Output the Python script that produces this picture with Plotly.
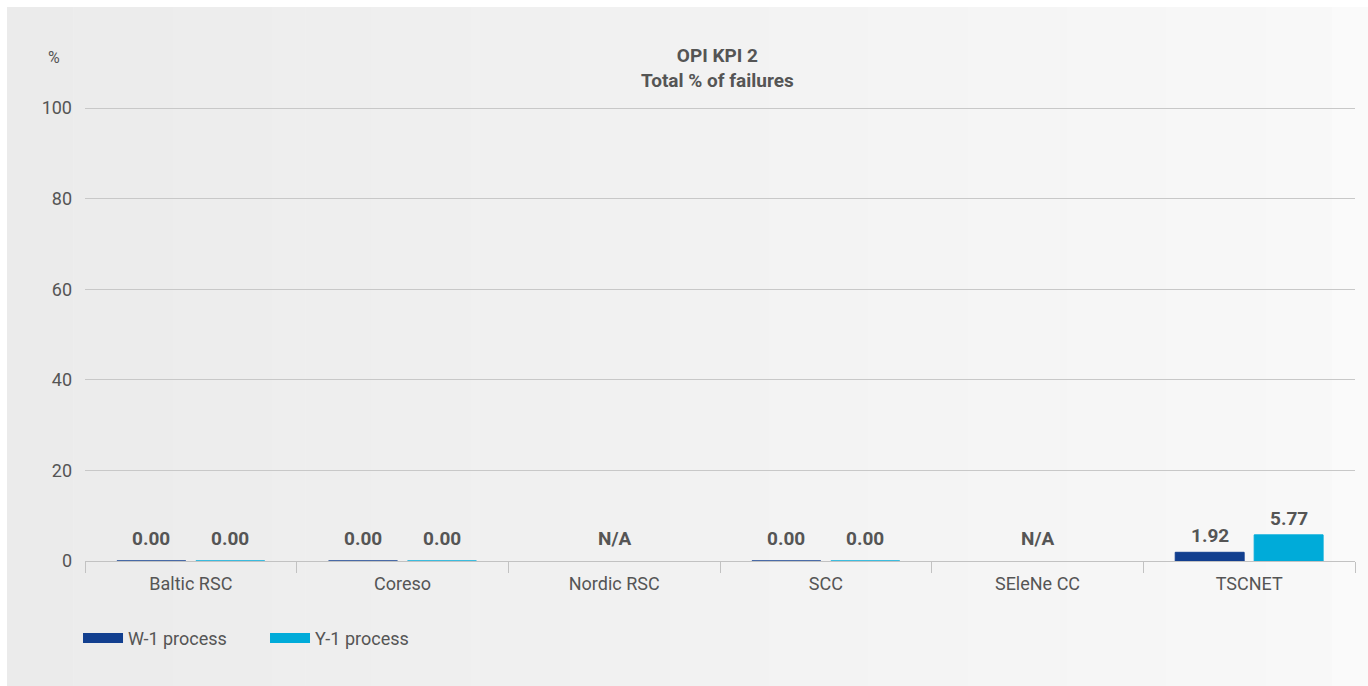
import plotly.graph_objects as go

categories = ["Baltic RSC", "Coreso", "Nordic RSC", "SCC", "SEleNe CC", "TSCNET"]
w1_values = [0.0, 0.0, None, 0.0, None, 1.92]
y1_values = [0.0, 0.0, None, 0.0, None, 5.77]
series_names = ["W-1 process", "Y-1 process"]
series_colors = ["#123f8f", "#00abd9"]
y_ticks = [0, 20, 40, 60, 80, 100]
na_label = "N/A"
title_lines = ["OPI KPI 2", "Total % of failures"]
y_unit = "%"

FONT = "Roboto"
GREY_TEXT = "#555555"

fig = go.Figure()
series = [w1_values, y1_values]
for name, vals, col in zip(series_names, series, series_colors):
    fig.add_trace(go.Bar(
        x=categories, y=vals, name=name, showlegend=False,
        marker=dict(color=col, line=dict(color=col, width=1)),
        hoverinfo="x+y",
    ))
# legend swatches (wide rectangles like the original)
for name, col in zip(series_names, series_colors):
    fig.add_trace(go.Scatter(
        x=[None], y=[None], mode="lines", name=name,
        line=dict(color=col, width=12), showlegend=True,
    ))

annotations = []
offsets = [-0.187, 0.187]
for i, cat in enumerate(categories):
    vals = [s[i] for s in series]
    if all(v is None for v in vals):
        annotations.append(dict(
            x=i, y=0, xref="x", yref="y", text="<b>%s</b>" % na_label,
            showarrow=False, yanchor="bottom", yshift=9,
            font=dict(family=FONT, size=19, color=GREY_TEXT)))
        continue
    for off, v in zip(offsets, vals):
        if v is None:
            continue
        annotations.append(dict(
            x=i + off, y=v, xref="x", yref="y", text="<b>%.2f</b>" % v,
            showarrow=False, yanchor="bottom", yshift=9 if v == 0 else 3,
            font=dict(family=FONT, size=19, color=GREY_TEXT)))

annotations.append(dict(
    x=(717 - 85) / 1270, y=(561 - 68) / 454, xref="paper", yref="paper",
    text="<b>%s</b><br><b>%s</b>" % tuple(title_lines), showarrow=False,
    xanchor="center", yanchor="middle", align="center",
    font=dict(family=FONT, size=19, color=GREY_TEXT)))
annotations.append(dict(
    x=(54 - 85) / 1270, y=(561 - 57) / 454, xref="paper", yref="paper",
    text=y_unit, showarrow=False, xanchor="center", yanchor="middle",
    font=dict(family=FONT, size=16, color=GREY_TEXT)))

# background gradient panel
shapes = []
x_left_px, x_right_px, x_end_px = 7, 1332, 1368
n = 40
c0, c1 = (235, 235, 235), (248, 248, 248)
for k in range(n):
    a = x_left_px + (x_right_px - x_left_px) * k / n
    b = x_left_px + (x_right_px - x_left_px) * (k + 1) / n + 0.6
    t = k / (n - 1)
    c = tuple(round(c0[j] + (c1[j] - c0[j]) * t) for j in range(3))
    shapes.append(dict(type="rect", xref="paper", yref="paper", layer="below",
                       x0=(a - 85) / 1270, x1=(b - 85) / 1270,
                       y0=(561 - 686) / 454, y1=(561 - 7) / 454,
                       line=dict(width=0), fillcolor="rgb(%d,%d,%d)" % c))
shapes.append(dict(type="rect", xref="paper", yref="paper", layer="below",
                   x0=(x_right_px - 85) / 1270, x1=(x_end_px - 85) / 1270,
                   y0=(561 - 686) / 454, y1=(561 - 7) / 454,
                   line=dict(width=0), fillcolor="rgb(250,250,250)"))

fig.update_layout(
    width=1368, height=686,
    margin=dict(l=85, r=13, t=107, b=125),
    paper_bgcolor="white", plot_bgcolor="rgba(0,0,0,0)",
    barmode="group", bargap=0.254, bargroupgap=0.127,
    font=dict(family=FONT, size=18, color=GREY_TEXT),
    annotations=annotations, shapes=shapes,
    showlegend=True,
    legend=dict(orientation="h", x=-0.0055, xanchor="left", y=-0.17, yanchor="middle",
                bgcolor="rgba(0,0,0,0)", font=dict(family=FONT, size=18, color=GREY_TEXT),
                entrywidth=132, entrywidthmode="pixels", itemwidth=40,
                traceorder="normal"),
    xaxis=dict(
        type="category", showgrid=False, showline=True, linecolor="#c2c2c2", linewidth=1,
        ticks="outside", tickson="boundaries", ticklen=11, tickcolor="#c2c2c2",
        ticklabelstandoff=6,
        tickfont=dict(family=FONT, size=18, color=GREY_TEXT), zeroline=False,
        fixedrange=True,
    ),
    yaxis=dict(
        range=[0, 100.25], tickvals=y_ticks, showgrid=True, gridcolor="#c8c8c8", gridwidth=1,
        zeroline=False, showline=False, ticks="", ticklabelstandoff=12,
        tickfont=dict(family=FONT, size=18, color=GREY_TEXT), fixedrange=True,
    ),
)

fig.write_html("out.html")
